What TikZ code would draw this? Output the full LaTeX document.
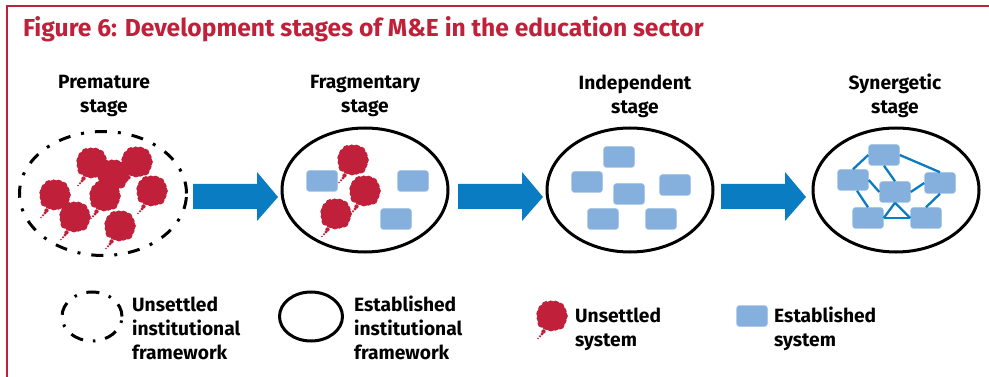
\documentclass[tikz,border=0pt]{standalone}
\usepackage{fontspec}
\setmainfont{Fira Sans}
\definecolor{figred}{HTML}{C1203A}
\definecolor{figblue}{HTML}{0A7CC1}
\definecolor{boxblue}{HTML}{85B0DD}
\tikzset{
  stagelabel/.style={font=\fontsize{19.2}{24}\selectfont\bfseries, align=center, text=black, inner sep=0pt},
  legendlabel/.style={font=\fontsize{19.2}{24}\selectfont\bfseries, align=left, text=black, inner sep=0pt, anchor=west},
  sysbox/.style={rectangle, rounded corners=3pt, fill=boxblue, draw=boxblue!70!white, line width=.5pt, minimum width=31pt, minimum height=21pt, inner sep=0pt},
  link/.style={draw=figblue, line width=2.3pt},
  flow/.style={fill=figblue, draw=none},
  unsettled/.style={draw=black, line width=3pt, dash pattern=on 12pt off 11pt on 3pt off 11pt},
  cloudblob/.pic={
    \fill[figred] (0,0) circle[radius=14.5pt];
    \foreach \a/\d/\r in {0/11.5/4.4,24/11.5/4.1,48/12/4.6,72/11/4.2,96/11/4.5,120/11.5/4.1,144/12.5/4.4,168/11.5/4.2,192/11.5/4.5,216/12/4.2,240/12/4.5,264/11.5/4.1,288/11.5/4.4,312/12/4.4,336/11.5/4.2}
      \fill[figred] (\a:\d) circle[radius=\r pt];
    \fill[figred] (-8.5,15.5) circle[radius=2.2pt];
    \fill[figred] (-10,18) circle[radius=1.7pt];
    \fill[figred] (-12,20.3) circle[radius=1.2pt];
    \fill[figred] (-14,22.5) circle[radius=.8pt];
  },
}
\usetikzlibrary{shapes.geometric}
\newcommand{\flowarrow}[1]{\fill[flow] (#1+0,184) -- (#1+64,184) -- (#1+64,172) -- (#1+85,197) -- (#1+64,221) -- (#1+64,209) -- (#1+0,209) -- cycle;}
\begin{document}
\begin{tikzpicture}[x=1pt,y=-1pt]
\useasboundingbox (0,0) rectangle (989,377);
\fill[white] (0,0) rectangle (989,377);
% frame
\draw[figred, line width=1.6pt] (989,6) -- (7,6) -- (7,377);
\node[anchor=west, inner sep=0pt, text=figred, font=\fontsize{24.6}{27}\selectfont\bfseries] (title) at (23,29) {Figure 6: Development stages of M\&E in the education sector};
% stage labels
\node[stagelabel] (l1) at (104,96) {Premature\\stage};
\node[stagelabel] (l2) at (365,96) {Fragmentary\\stage};
\node[stagelabel] (l3) at (635,96) {Independent\\stage};
\node[stagelabel] (l4) at (895,96) {Synergetic\\stage};
% ellipses
\draw[unsettled] (103,193.5) ellipse[x radius=83.5pt, y radius=62pt];
\draw[black, line width=3pt] (365,190) ellipse[x radius=83pt, y radius=62pt];
\draw[black, line width=3pt] (630,190) ellipse[x radius=83pt, y radius=62pt];
\draw[black, line width=3pt] (896,190) ellipse[x radius=83pt, y radius=62pt];
% arrows
\flowarrow{193}
\flowarrow{458}
\flowarrow{721}
% stage 1 clouds
\foreach \p in {(92,163),(137,162),(113,175),(105,196),(152,191),(55,195),(75,217),(120,226)}
  \pic at \p {cloudblob};
% stage 2
\pic at (353,160) {cloudblob};
\pic at (365,191) {cloudblob};
\pic at (336,214) {cloudblob};
\node[sysbox] (f1) at (322,181) {};
\node[sysbox] (f2) at (413,181) {};
\node[sysbox] (f3) at (396,219) {};
% stage 3
\node[sysbox] (i1) at (619,157) {};
\node[sysbox] (i2) at (587,182) {};
\node[sysbox] (i3) at (629,194) {};
\node[sysbox] (i4) at (675,185) {};
\node[sysbox] (i5) at (603,219) {};
\node[sysbox] (i6) at (661,219) {};
% stage 4
\node[sysbox] (s1) at (884,155) {};
\node[sysbox] (s2) at (853,180) {};
\node[sysbox] (s3) at (895,192) {};
\node[sysbox] (s4) at (940,183) {};
\node[sysbox] (s5) at (868,218) {};
\node[sysbox] (s6) at (926,218) {};
\path[link] (s2.north) -- (s1.west);
\path[link] (s1.south) -- (s3.north);
\path[link] (s1.east) -- (s4.north);
\path[link] (s2.east) -- (s3.west);
\path[link] ([xshift=4pt]s2.south) -- (s5.north);
\path[link] (s3.east) -- (s4.west);
\path[link] (s4.south) -- (s6.north);
\path[link] (s3.south) -- (s5.east);
\path[link] (s3.south) -- (s6.west);
\path[link] (s5.east) -- (s6.west);
% legend
\draw[unsettled, dash pattern=on 13pt off 10pt on 2.5pt off 10pt] (92,316.5) ellipse[x radius=30pt, y radius=24.5pt];
\draw[black, line width=3pt] (311,316.5) ellipse[x radius=31.5pt, y radius=24.5pt];
\node[legendlabel] (t1) at (132,328) {Unsettled\\institutional\\framework};
\node[legendlabel] (t2) at (354,328) {Established\\institutional\\framework};
\pic at (552,316) {cloudblob};
\node[legendlabel] (t3) at (575,329) {Unsettled\\system};
\node[sysbox] (k1) at (752,316) {};
\node[legendlabel] (t4) at (774,329) {Established\\system};
\end{tikzpicture}
\end{document}
